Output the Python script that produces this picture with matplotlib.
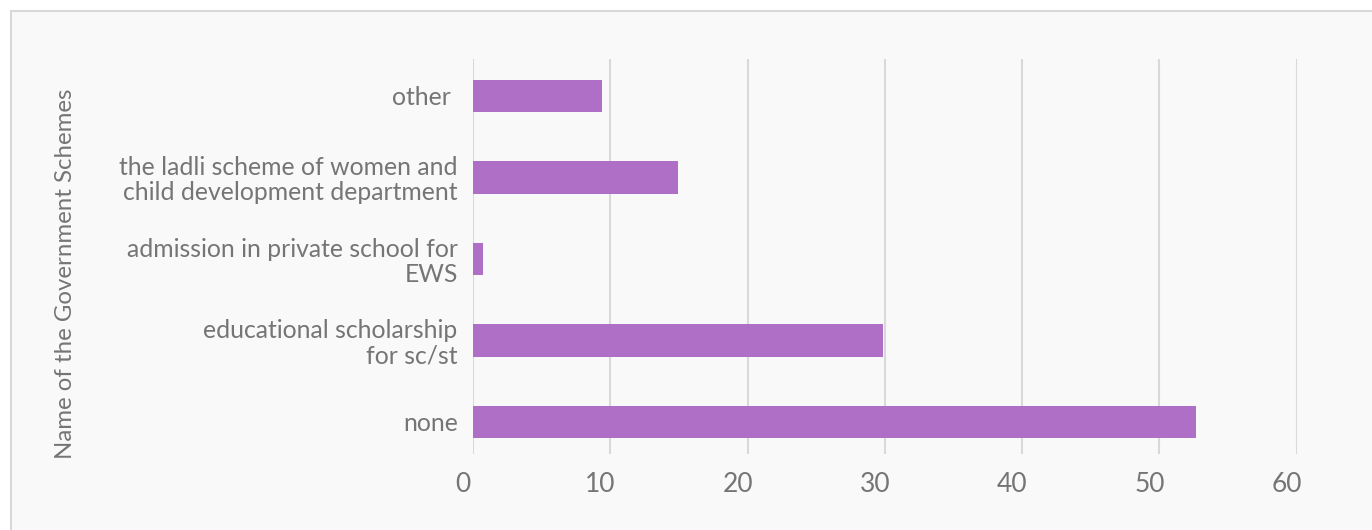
import matplotlib
matplotlib.use("Agg")
import matplotlib.pyplot as plt
from matplotlib.patches import Rectangle
from matplotlib.transforms import ScaledTranslation

# Schemes listed bottom to top
schemes = [
    "none",
    "educational scholarship\nfor sc/st",
    "admission in private school for\nEWS",
    "the ladli scheme of women and\nchild development department",
    "other ",
]
percent = [52.7, 29.9, 0.75, 14.9, 9.4]
x_ticks = [0, 10, 20, 30, 40, 50, 60]

bar_color = "#b06fc6"
grid_color = "#d9d9d9"
text_color = "#757575"

plt.rcParams["font.family"] = ["Lato", "DejaVu Sans"]

W, H = 1372, 530
fig = plt.figure(figsize=(W / 100, H / 100), dpi=100)
fig.patch.set_facecolor("white")

# chart area frame
fig.patches.append(Rectangle((11 / W, -0.1), 1.2, 1 - 11 / H + 0.1,
                             transform=fig.transFigure, facecolor="#f9f9f9",
                             edgecolor=grid_color, linewidth=1.5, zorder=-5))

ax = fig.add_axes([473 / W, 1 - 454 / H, (1296.7 - 473) / W, (454 - 59) / H])
ax.set_zorder(2)
ax.set_facecolor("none")

ypos = list(range(len(schemes)))
ax.barh(ypos, percent, height=0.40, color=bar_color, zorder=3)

ax.set_xlim(0, 60)
ax.set_ylim(-0.393, 4.454)
ax.set_xticks(x_ticks)
ax.set_xticklabels([str(v) for v in x_ticks])
ax.set_yticks(ypos)
ax.set_yticklabels(schemes, fontsize=17.8, color=text_color, linespacing=1.1)
ax.tick_params(axis="x", length=0, pad=13, labelsize=19, labelcolor=text_color)
ax.tick_params(axis="y", length=0, pad=11)

for lbl in ax.get_xticklabels():
    lbl.set_transform(lbl.get_transform() + ScaledTranslation(-10 / 100, 0, fig.dpi_scale_trans))

ax.grid(axis="x", color=grid_color, linewidth=1.5, zorder=0)
ax.set_axisbelow(True)
for s in ax.spines.values():
    s.set_visible(False)

fig.text(66 / W, 1 - 274 / H, "Name of the Government Schemes", rotation=90,
         ha="center", va="center", fontsize=17.3, color=text_color, zorder=3)

fig.savefig("out.png", dpi=100, facecolor=fig.get_facecolor())
